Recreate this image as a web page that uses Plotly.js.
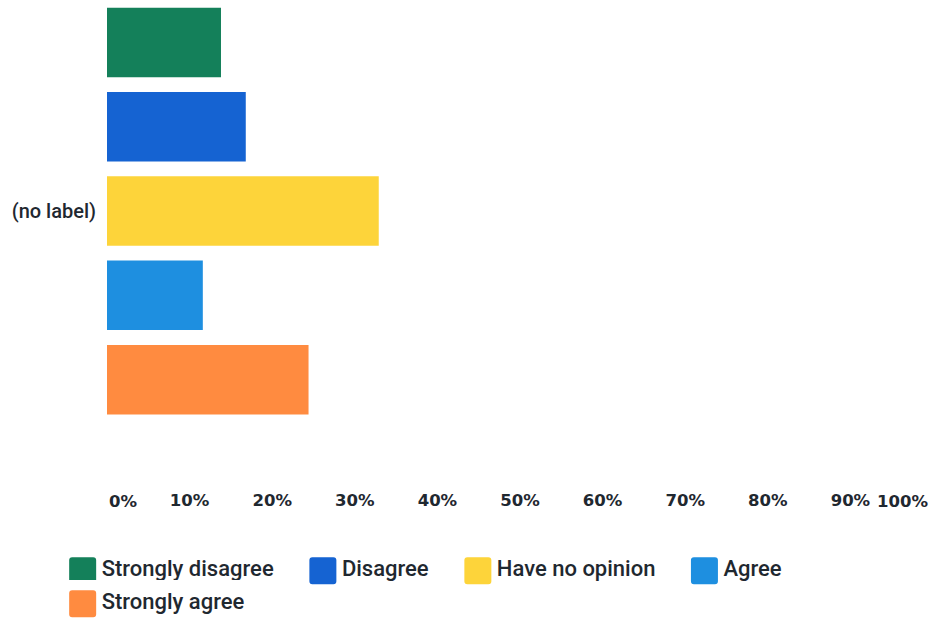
<!DOCTYPE html>
<html><head><meta charset="utf-8">
<script src="https://cdn.plot.ly/plotly-3.0.1.min.js"></script>
<style>html,body{margin:0;padding:0;background:#fff}</style>
</head><body>
<div id="chart" style="width:934px;height:620px"></div>
<script>
const categories = ["(no label)"];
const seriesNames = ["Strongly disagree", "Disagree", "Have no opinion", "Agree", "Strongly agree"];
const stronglyDisagree = [13.8];
const disagree = [16.8];
const haveNoOpinion = [32.9];
const agree = [11.6];
const stronglyAgree = [24.4];
const seriesValues = [stronglyDisagree, disagree, haveNoOpinion, agree, stronglyAgree];
const seriesColors = ["#14805a", "#1563d2", "#fdd43a", "#1e8fe0", "#ff8b40"];
const tickValues = [0, 10, 20, 30, 40, 50, 60, 70, 80, 90, 100];
const tickLabels = ["0%", "10%", "20%", "30%", "40%", "50%", "60%", "70%", "80%", "90%", "100%"];
// which legend row each series sits in (the reference wraps the last entry)
const legendRows = ["legend", "legend", "legend", "legend", "legend2"];

const textColor = "#1f2830";
const tickFont = {family: "DejaVu Sans", size: 16.5, color: textColor, weight: 700};
const legendFont = {family: "Roboto", size: 22, color: textColor, weight: 500};

const traces = seriesNames.map((name, i) => ({
  type: "bar",
  orientation: "h",
  name: name,
  y: categories,
  x: seriesValues[i],
  legend: legendRows[i],
  marker: {color: seriesColors[i], line: {width: 0}},
  hoverinfo: "name+x"
}));

// Interior ticks on the axis; end labels anchored inward like the reference
const innerIdx = tickValues.map((v, i) => i).filter(i => i > 0 && i < tickValues.length - 1);
const endAnnotations = [0, tickValues.length - 1].map(i => ({
  x: tickValues[i], xref: "x",
  y: 0, yref: "paper", yanchor: "top",
  yshift: -2,
  xanchor: i === 0 ? "left" : "right",
  xshift: i === 0 ? 0 : -3,
  text: tickLabels[i],
  showarrow: false,
  font: tickFont
}));

const legendBase = {
  orientation: "h",
  xref: "container", yref: "container",
  x: 0.0414, xanchor: "left",
  yanchor: "top",
  itemwidth: 53,
  font: legendFont,
  traceorder: "normal",
  itemclick: false, itemdoubleclick: false
};

const layout = {
  width: 934, height: 620,
  margin: {l: 107, r: 1, t: 0, b: 132, pad: 0},
  paper_bgcolor: "#fff", plot_bgcolor: "#fff",
  barmode: "group",
  bargap: 0,
  bargroupgap: 0.176,
  showlegend: true,
  xaxis: {
    range: [0, 100], fixedrange: true,
    showgrid: false, zeroline: false, showline: false,
    tickmode: "array",
    tickvals: innerIdx.map(i => tickValues[i]),
    ticktext: innerIdx.map(i => tickLabels[i]),
    ticks: "", tickfont: tickFont
  },
  yaxis: {
    type: "category",
    range: [0.657, -0.5006], fixedrange: true,
    showgrid: false, zeroline: false, showline: false,
    ticks: "outside", ticklen: 6, tickcolor: "rgba(0,0,0,0)",
    tickfont: {family: "Roboto", size: 20, color: textColor, weight: 500}
  },
  legend: Object.assign({}, legendBase, {y: 1 - 547 / 620}),
  legend2: Object.assign({}, legendBase, {y: 1 - 580 / 620}),
  annotations: endAnnotations
};

Plotly.newPlot("chart", traces, layout, {displayModeBar: false, staticPlot: true}).then(gd => {
  // rounded square swatches sitting just before the legend text, as in the reference
  const dx = 12.5, dy = 3, h = 13.5, r = 3;
  const d = `M${dx + h},${dy + h - r}A${r},${r} 0 0 1 ${dx + h - r},${dy + h}H${dx - h + r}A${r},${r} 0 0 1 ${dx - h},${dy + h - r}` +
            `V${dy - h + r}A${r},${r} 0 0 1 ${dx - h + r},${dy - h}H${dx + h - r}A${r},${r} 0 0 1 ${dx + h},${dy - h + r}Z`;
  gd.querySelectorAll(".legendpoints path").forEach(p => p.setAttribute("d", d));
});
</script>
</body></html>
